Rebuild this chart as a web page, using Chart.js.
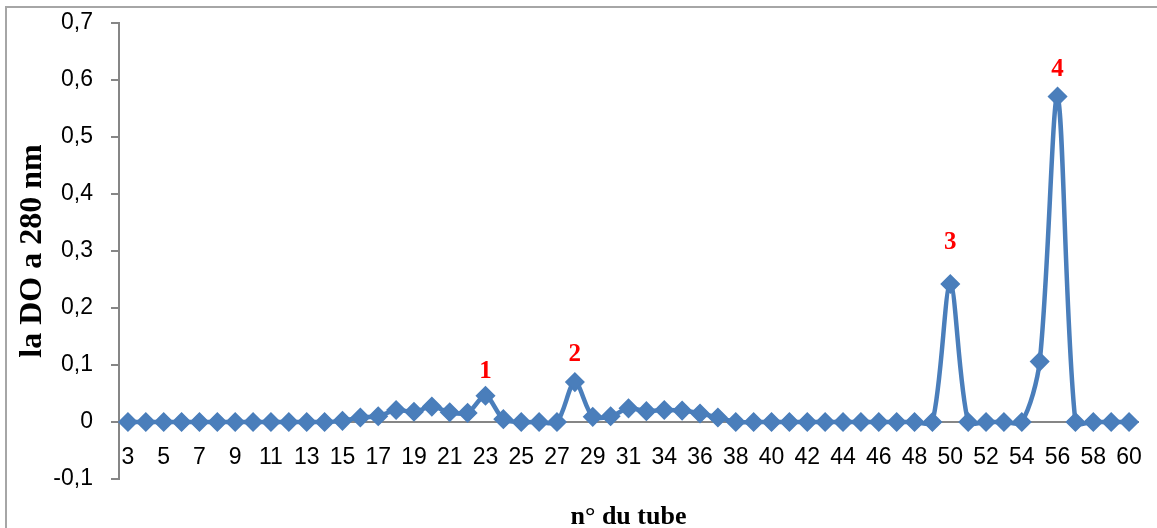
<!DOCTYPE html>
<html>
<head>
<meta charset="utf-8">
<script src="https://cdn.jsdelivr.net/npm/chart.js@4.4.1/dist/chart.umd.min.js"></script>
<style>
  html, body { margin: 0; padding: 0; background: #fff; }
  #wrap { position: relative; width: 1157px; height: 528px; }
  #frame { position: absolute; left: 5px; top: 6px; right: -4px; bottom: -4px; border-left: 2px solid #a6a6a6; border-top: 2px solid #a6a6a6; pointer-events: none; }
  canvas { position: absolute; left: 0; top: 0; }
</style>
</head>
<body>
<div id="wrap">
  <canvas id="c" width="1157" height="528"></canvas>
  <div id="frame"></div>
</div>
<script>
// ---- data ----
const tubes = ['3','4','5','6','7','8','9','10','11','12','13','14','15','16','17','18','19','20','21','22','23','24','25','26','27','28','29','30','31','32','34','35','36','37','38','39','40','41','42','43','44','45','46','47','48','49','50','51','52','53','54','55','56','57','58','59','60'];
const absorbance = [0,0,0,0,0,0,0,0,0,0,0,0,0.002,0.008,0.01,0.021,0.018,0.027,0.017,0.016,0.046,0.005,0,0,0,0.07,0.009,0.01,0.024,0.019,0.021,0.02,0.015,0.008,0,0,0,0,0,0,0,0,0,0,0,0,0.242,0,0,0,0,0.106,0.571,0,0,0,0];
const shownTickLabels = ['3','5','7','9','11','13','15','17','19','21','23','25','27','29','31','34','36','38','40','42','44','46','48','50','52','54','56','58','60'];
const yTicks = [-0.1,0,0.1,0.2,0.3,0.4,0.5,0.6,0.7];
const peakNames = ['1','2','3','4'];
const peakTubes = ['23','28','50','56'];
const peakLabelY = [0.088,0.119,0.314,0.618];
const xTitle = 'n° du tube';
const yTitle = 'la DO a 280 nm';

const textPlugin = {
  id: 'texts',
  afterDatasetsDraw(chart) {
    const {ctx, chartArea, scales: {x, y}} = chart;
    ctx.save();
    ctx.fillStyle = '#ff0000';
    ctx.font = 'bold 25px "Liberation Serif", "Times New Roman", serif';
    ctx.textAlign = 'center';
    ctx.textBaseline = 'middle';
    peakNames.forEach((n, i) => {
      ctx.fillText(n, x.getPixelForValue(tubes.indexOf(peakTubes[i])), y.getPixelForValue(peakLabelY[i]));
    });
    ctx.fillStyle = '#000';
    ctx.font = 'bold 26px "Liberation Serif", "Times New Roman", serif';
    ctx.textBaseline = 'alphabetic';
    ctx.fillText(xTitle, (chartArea.left + chartArea.right) / 2, 524);
    ctx.restore();
  }
};

new Chart(document.getElementById('c'), {
  type: 'line',
  data: {
    labels: tubes,
    datasets: [{
      data: absorbance,
      borderColor: '#4a7ebb',
      backgroundColor: '#4a7ebb',
      borderWidth: 4.5,
      tension: 0.3,
      pointStyle: 'rectRot',
      pointRadius: 9,
      pointBorderWidth: 1.5,
      pointBackgroundColor: '#4a7ebb',
      pointBorderColor: '#4a7ebb',
      clip: false
    }]
  },
  options: {
    responsive: false,
    animation: false,
    devicePixelRatio: 1,
    layout: { padding: { top: 23, right: 19, bottom: 49, left: 0 } },
    plugins: {
      legend: { display: false },
      tooltip: { enabled: false },
      title: { display: false }
    },
    scales: {
      x: {
        type: 'category',
        position: { y: 0 },
        offset: true,
        afterFit(scale) { scale.paddingLeft = 0; scale.paddingRight = 0; },
        grid: { display: true, drawOnChartArea: false, drawTicks: false, color: '#868686' },
        border: { display: true, color: '#868686', width: 2 },
        ticks: {
          autoSkip: false,
          maxRotation: 0,
          padding: 22,
          color: '#000',
          font: { family: '"Liberation Sans", Arial, sans-serif', size: 23 },
          callback: function(v) { const l = this.getLabelForValue(v); return shownTickLabels.includes(l) ? l : ''; }
        }
      },
      y: {
        min: -0.1,
        max: 0.7,
        afterFit(scale) { scale.width = 119; scale.paddingTop = 0; scale.paddingBottom = 0; },
        afterBuildTicks(scale) { scale.ticks = yTicks.map(v => ({ value: v })); },
        grid: { drawOnChartArea: false, drawTicks: true, tickLength: 8, color: '#868686', lineWidth: 2 },
        border: { display: true, color: '#868686', width: 2 },
        ticks: {
          padding: 18,
          color: '#000',
          font: { family: '"Liberation Sans", Arial, sans-serif', size: 23 },
          callback: v => { const r = Math.round(v * 10) / 10; return r === 0 ? '0' : r.toFixed(1).replace('.', ','); }
        },
        title: {
          display: true,
          text: yTitle,
          color: '#000',
          font: { family: '"Liberation Serif", "Times New Roman", serif', size: 32, weight: 'bold' },
          padding: { top: 14, bottom: 0 }
        }
      }
    }
  },
  plugins: [textPlugin]
});
</script>
</body>
</html>
